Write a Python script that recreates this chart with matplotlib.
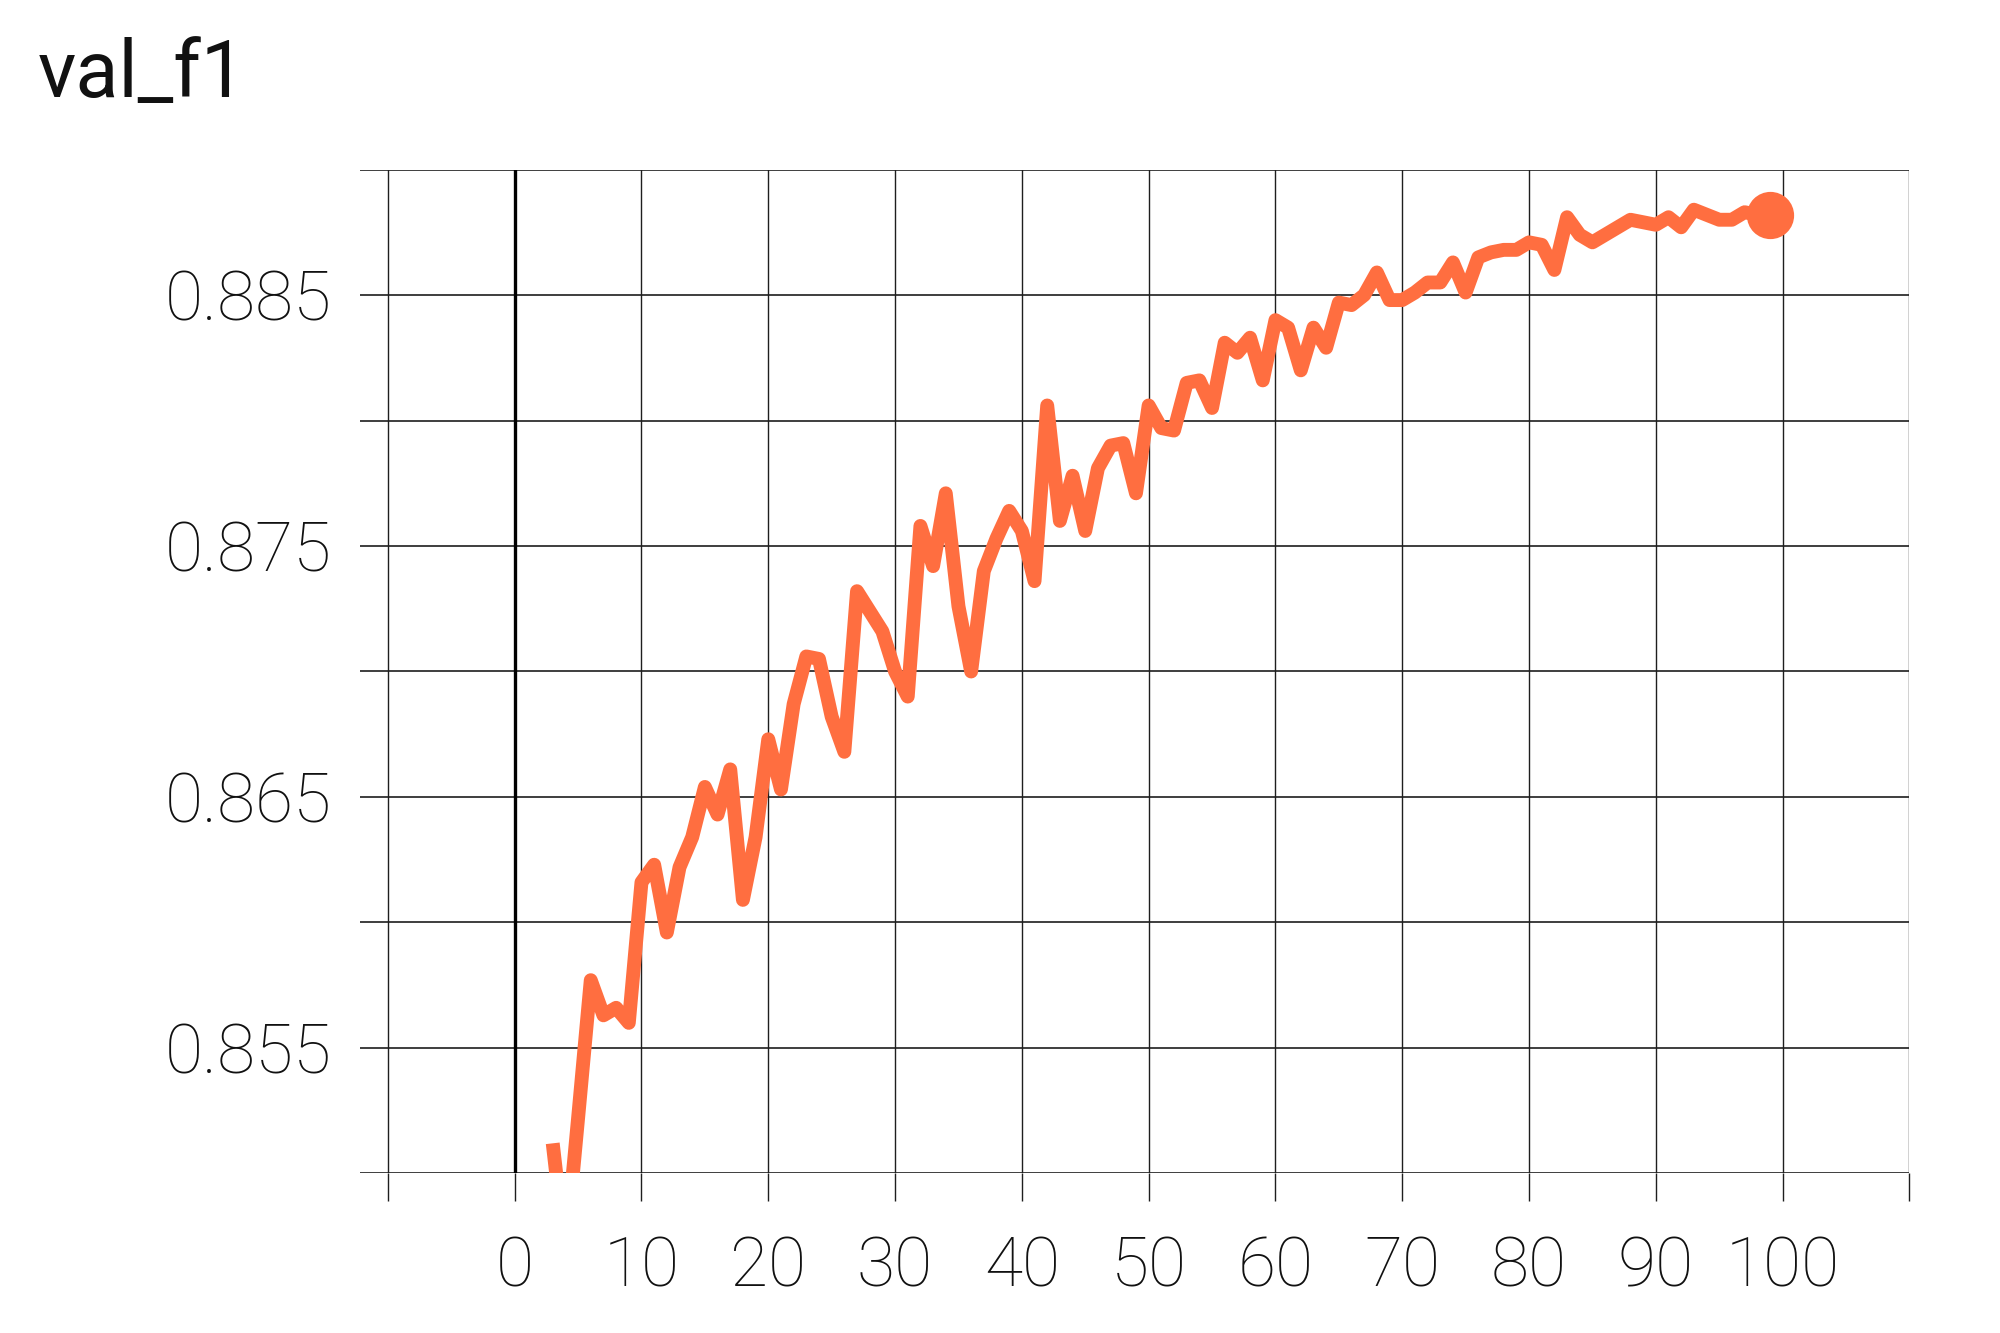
import numpy as np
import matplotlib
matplotlib.use("Agg")
import matplotlib.pyplot as plt

# val_f1 per epoch (epochs 0-2 are not on the chart)
epochs = list(range(3, 100))
val_f1 = [
    0.8512, 0.8468, 0.8522, 0.8577, 0.8563, 0.8566, 0.8560,
    0.8616, 0.8623, 0.8596, 0.8622, 0.8634, 0.8654, 0.8643, 0.8661, 0.8609, 0.8634,
    0.8673, 0.8653, 0.8687, 0.8706, 0.8705, 0.8682, 0.8668, 0.8732, 0.8724, 0.8716,
    0.8700, 0.8690, 0.8758, 0.8742, 0.8771, 0.8726, 0.8700, 0.8740, 0.8753, 0.8764,
    0.8756, 0.8736, 0.8806, 0.8760, 0.8778, 0.8756, 0.8781, 0.8790, 0.8791, 0.8771,
    0.8806, 0.8797, 0.8796, 0.8815, 0.8816, 0.8805, 0.8831, 0.8827, 0.8833, 0.8816,
    0.8840, 0.8837, 0.8820, 0.8837, 0.8829, 0.8847, 0.8846, 0.8850, 0.8859, 0.8848,
    0.8848, 0.8851, 0.8855, 0.8855, 0.8863, 0.8851, 0.8865, 0.8867, 0.8868, 0.8868,
    0.8871, 0.8870, 0.8860, 0.8881, 0.8874, 0.8871, 0.8874, 0.8877, 0.8880, 0.8879,
    0.8878, 0.8881, 0.8877, 0.8884, 0.8882, 0.8880, 0.8880, 0.8883, 0.8882, 0.8882,
]

x_ticks = list(range(-10, 111, 10))
x_labels = [str(t) if 0 <= t <= 100 else "" for t in x_ticks]
y_ticks = [0.855, 0.865, 0.875, 0.885]
y_labels = ["0.855", "0.865", "0.875", "0.885"]

plt.rcParams["font.family"] = ["Roboto", "DejaVu Sans"]

fig = plt.figure(figsize=(10, 6.665), dpi=200)
ax = fig.add_axes([0.180, 0.1197, 0.7747, 0.7531])

grid_col = "#1e1e1e"
for yv in np.arange(0.850, 0.8901, 0.005):
    ax.axhline(yv, color=grid_col, lw=0.6, zorder=1)
for xv in x_ticks:
    ax.axvline(xv, color=grid_col, lw=0.5, zorder=1)
ax.axvline(0, color="black", lw=1.2, zorder=1.5)

ax.plot(epochs, val_f1, color="#ff6e40", lw=5.0, solid_joinstyle="round",
        solid_capstyle="butt", zorder=3)
ax.plot(epochs[-1], val_f1[-1], "o", color="#ff6e40", ms=16, zorder=4)

ax.set_xlim(-12.2, 110)
ax.set_ylim(0.850, 0.890)
for s in ax.spines.values():
    s.set_visible(False)

ax.set_xticks(x_ticks)
ax.set_xticklabels(x_labels, fontsize=25, fontweight="light", color="#111111")
ax.set_yticks(y_ticks)
ax.set_yticklabels(y_labels, fontsize=25, fontweight="light", color="#111111")
ax.tick_params(axis="x", length=10, width=0.5, color=grid_col, pad=12)
ax.tick_params(axis="y", length=0, pad=10)

fig.text(0.019, 0.972, "val_f1", fontsize=28.5, ha="left", va="top", color="#111111")

fig.savefig("out.png", dpi=200, facecolor="white")
